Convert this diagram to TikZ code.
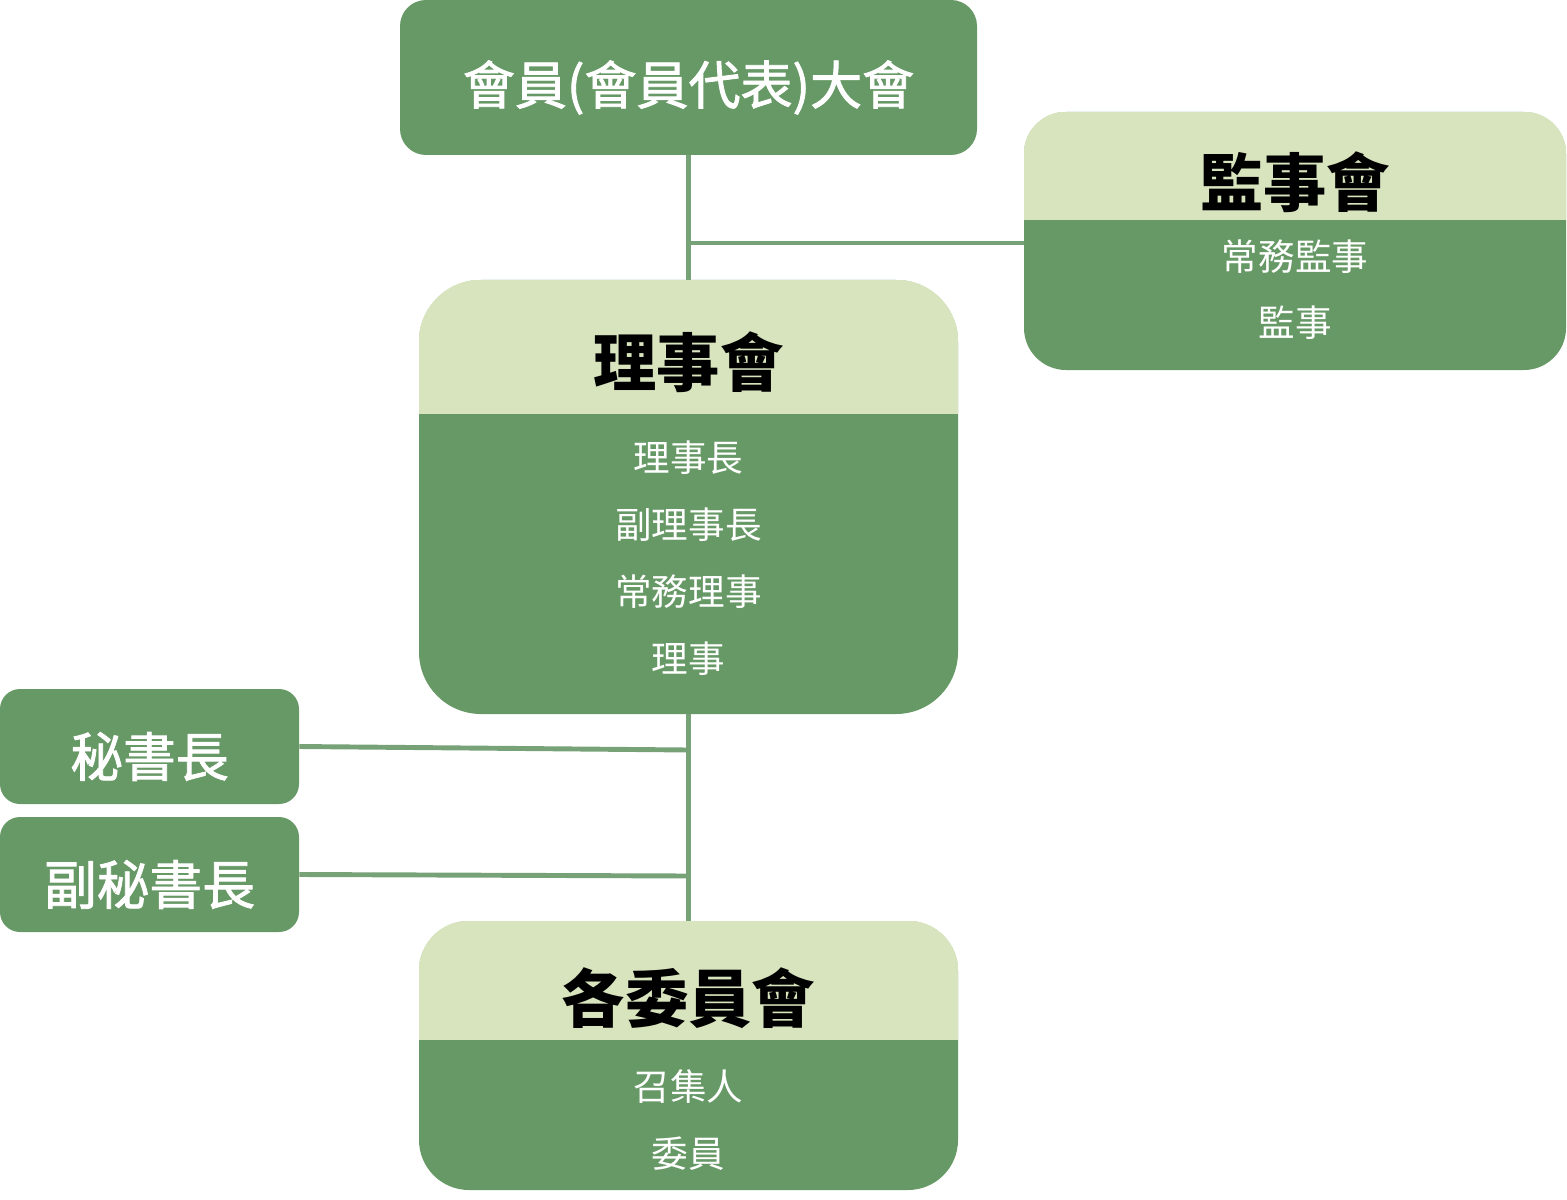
\documentclass[tikz,border=0pt]{standalone}
\usepackage{fontspec}
\setmainfont{Noto Sans CJK TC}
\newfontfamily\semibold{Noto Sans CJK TC}[FakeBold=1.6]
\usetikzlibrary{calc,positioning}

\definecolor{darkgreen}{RGB}{103,153,102}
\definecolor{lightgreen}{RGB}{216,228,190}
\definecolor{linegreen}{RGB}{119,161,118}

\begin{document}
\begin{tikzpicture}
	\tikzset{
		box/.style = {fill=darkgreen, rectangle, inner sep=0pt},
		title/.style = {text=black, font=\fontsize{45}{50}\selectfont\bfseries},
		head/.style = {text=white, font=\fontsize{37}{40}\selectfont\semibold},
		side/.style = {text=white, font=\fontsize{37.5}{42}\selectfont\semibold},
		item/.style = {text=white, font=\fontsize{26}{30}\selectfont},
		link/.style = {draw=linegreen, line width=3.5pt}
	}
	\useasboundingbox (0,0) rectangle (39.175,-30);

	% general assembly
	\node[box, rounded corners=0.65cm, minimum width=14.425cm, minimum height=3.875cm] (gen) at (17.2125,-1.9375) {};
	\node[head] (gentxt) at ($(gen)+(0,-0.25)$) {會員(會員代表)大會};

	% supervisors
	\node[box, rounded corners=1.05cm, minimum width=13.55cm, minimum height=6.45cm] (sup) at (32.375,-6.025) {};
	\begin{scope}
		\clip[rounded corners=1.05cm] (sup.south west) rectangle (sup.north east);
		\fill[lightgreen] (sup.north west) rectangle ($(sup.north east)+(0,-2.7)$);
	\end{scope}
	\node[title] (suptxt) at (32.375,-4.55) {監事會};
	\node[item] (sup1) at (32.375,-6.425) {常務監事};
	\node[item] (sup2) at (32.375,-8.075) {監事};

	% board
	\node[box, rounded corners=1.55cm, minimum width=13.475cm, minimum height=10.85cm] (board) at (17.2125,-12.425) {};
	\begin{scope}
		\clip[rounded corners=1.55cm] (board.south west) rectangle (board.north east);
		\fill[lightgreen] (board.north west) rectangle ($(board.north east)+(0,-3.35)$);
	\end{scope}
	\node[title] (boardtxt) at (17.2125,-9.05) {理事會};
	\node[item] (board1) at (17.2125,-11.45) {理事長};
	\node[item] (board2) at (17.2125,-13.125) {副理事長};
	\node[item] (board3) at (17.2125,-14.8) {常務理事};
	\node[item] (board4) at (17.2125,-16.475) {理事};

	% secretaries
	\node[box, rounded corners=0.5cm, minimum width=7.475cm, minimum height=2.875cm] (sec) at (3.7375,-18.6625) {};
	\node[side] (sectxt) at ($(sec)+(0,-0.25)$) {秘書長};
	\node[box, rounded corners=0.5cm, minimum width=7.475cm, minimum height=2.875cm] (dsec) at (3.7375,-21.8625) {};
	\node[side] (dsectxt) at ($(dsec)+(0,-0.25)$) {副秘書長};

	% committees
	\node[box, rounded corners=1.25cm, minimum width=13.475cm, minimum height=6.725cm] (comm) at (17.2125,-26.3875) {};
	\begin{scope}
		\clip[rounded corners=1.25cm] (comm.south west) rectangle (comm.north east);
		\fill[lightgreen] (comm.north west) rectangle ($(comm.north east)+(0,-2.975)$);
	\end{scope}
	\node[title] (commtxt) at (17.2125,-24.95) {各委員會};
	\node[item] (comm1) at (17.2125,-27.175) {召集人};
	\node[item] (comm2) at (17.2125,-28.85) {委員};

	\coordinate (j0) at (17.2125,-6.075);
	\coordinate (j1) at (17.2,-18.75);
	\coordinate (j2) at (17.2,-21.9);

	\draw[link] (gen.south) -- (board.north);
	\draw[link] (j0) -- (j0 -| sup.west);
	\draw[link] (board.south) -- (comm.north);
	\draw[link] (sec.east) -- (j1);
	\draw[link] (dsec.east) -- (j2);

\end{tikzpicture}
\end{document}
